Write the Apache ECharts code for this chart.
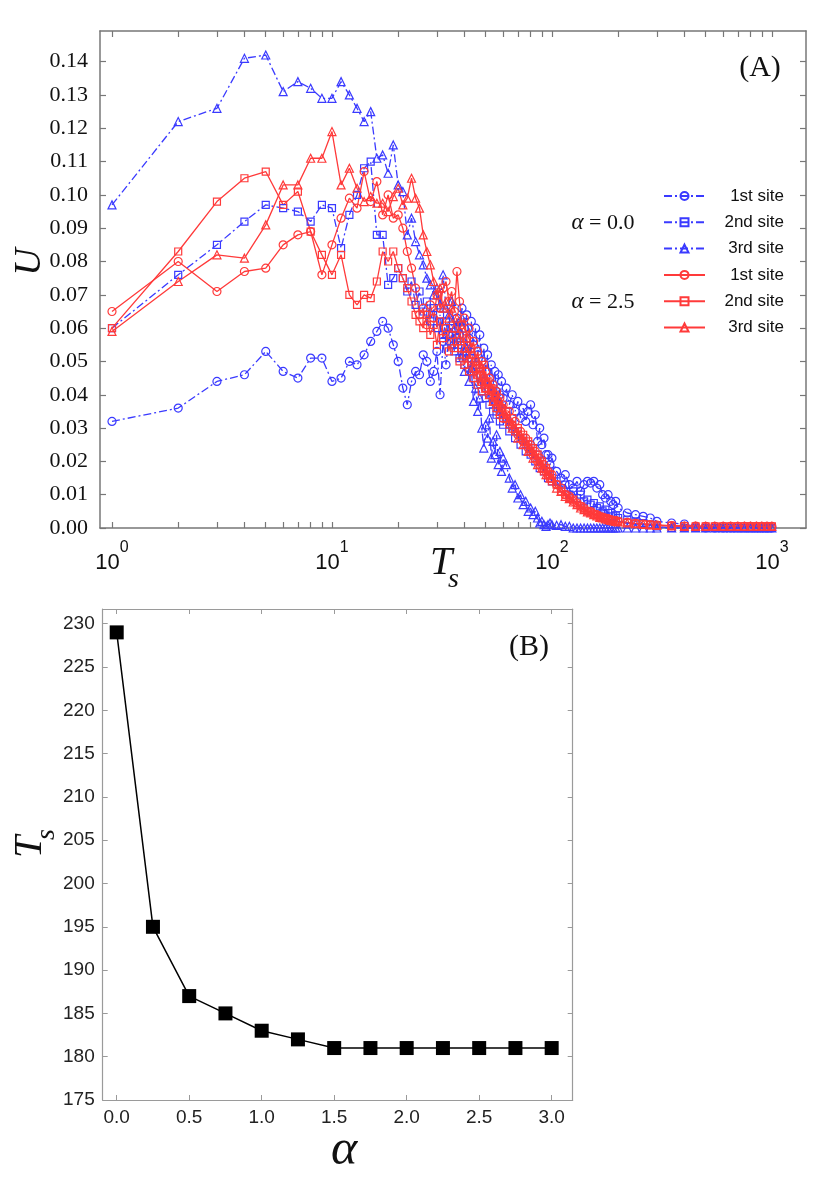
<!DOCTYPE html>
<html><head><meta charset="utf-8">
<script src="https://cdn.jsdelivr.net/npm/echarts@6/dist/echarts.min.js"></script>
<style>html,body{margin:0;padding:0;background:#fff}#c{width:831px;height:1179px}</style>
</head><body><div id="c"></div>
<script>
// ---------- Panel A data ----------
const T = [1,2,3,4,5,6,7,8,9,10,11,12,13,14,15,16,17,18,19,20,21,22,23,24,25,26,27,28,29,30,
  31,32,33,34,35,36,37,38,39,40,41,42,43,44,45,46,47,48,49,50,51,52,53,54,55,56,57,58,59,60,
  62,64,66,68,70,72,74,76,78,80,82,84,86,88,90,92,94,96,98,100,
  105,110,115,120,125,130,135,140,145,150,155,160,165,170,175,180,185,190,195,200,
  220,240,260,280,300,
  350,400,450,500,550,600,650,700,750,800,850,900,950,1000];

const a0site1 = [0.032,0.036,0.044,0.046,0.053,0.047,0.045,0.051,0.051,0.044,
  0.045,0.050,0.049,0.052,0.056,0.059,0.062,0.060,0.055,0.050,
  0.042,0.037,0.044,0.047,0.046,0.052,0.050,0.044,0.047,0.053,
  0.040,0.056,0.049,0.058,0.061,0.055,0.063,0.058,0.066,0.060,
  0.064,0.057,0.062,0.055,0.060,0.052,0.058,0.050,0.054,0.047,
  0.052,0.045,0.049,0.043,0.047,0.041,0.046,0.040,0.044,0.039,
  0.042,0.037,0.040,0.035,0.038,0.033,0.036,0.032,0.035,0.037,0.031,0.034,0.026,0.030,0.025,0.027,0.022,0.022,0.019,0.021,
  0.017,0.015,0.016,0.013,0.012,0.014,0.011,0.013,0.014,0.0135,0.014,0.012,0.013,0.010,0.009,0.010,0.008,0.007,0.008,0.006,
  0.0045,0.004,0.0035,0.003,0.002,
  0.0015,0.0012,0.0004,0,0,0,0,0,0,0,0,0,0,0];

const a0site2 = [0.060,0.076,0.085,0.092,0.097,0.096,0.095,0.092,0.097,0.096,
  0.084,0.094,0.100,0.108,0.110,0.088,0.088,0.073,0.075,0.078,
  0.075,0.071,0.074,0.067,0.071,0.065,0.068,0.062,0.066,0.060,
  0.064,0.058,0.062,0.056,0.060,0.053,0.057,0.051,0.055,0.049,
  0.053,0.047,0.051,0.045,0.049,0.043,0.046,0.041,0.044,0.039,
  0.042,0.037,0.040,0.035,0.038,0.034,0.036,0.032,0.035,0.031,
  0.033,0.029,0.031,0.027,0.029,0.025,0.027,0.023,0.025,0.022,0.024,0.020,0.022,0.018,0.020,0.017,0.018,0.015,0.017,0.014,
  0.014,0.012,0.013,0.010,0.011,0.009,0.010,0.008,0.0085,0.007,0.0075,0.006,0.0065,0.005,0.0055,0.0045,0.0045,0.0035,0.0038,0.003,
  0.0025,0.002,0.0015,0.001,0.0005,
  0,0,0,0,0,0,0,0,0,0,0,0,0,0];

const a0site3 = [0.097,0.122,0.126,0.141,0.142,0.131,0.134,0.132,0.129,0.129,
  0.134,0.130,0.126,0.122,0.125,0.111,0.112,0.1065,0.115,0.103,
  0.101,0.088,0.093,0.086,0.082,0.079,0.075,0.073,0.070,0.072,
  0.067,0.076,0.066,0.064,0.068,0.060,0.058,0.062,0.052,0.047,
  0.054,0.044,0.048,0.038,0.042,0.035,0.039,0.030,0.024,0.031,
  0.027,0.033,0.021,0.026,0.022,0.028,0.019,0.023,0.017,0.021,
  0.019,0.015,0.012,0.013,0.009,0.010,0.007,0.008,0.005,0.006,0.004,0.005,0.003,0.0015,0.002,0.001,0.0005,0.001,0.0015,0.001,
  0.0008,0.001,0.0005,0.0005,0,0,0,0,0,0,0,0,0,0,0,0,0,0,0,0,
  0,0,0,0,0,
  0,0,0,0,0,0,0,0,0,0,0,0,0,0];

const a25site1 = [0.065,0.080,0.071,0.077,0.078,0.085,0.088,0.089,0.076,0.085,
  0.093,0.099,0.096,0.107,0.098,0.104,0.094,0.100,0.093,0.094,
  0.090,0.083,0.078,0.072,0.064,0.066,0.061,0.067,0.063,0.070,
  0.066,0.072,0.074,0.068,0.071,0.065,0.077,0.068,0.061,0.063,
  0.057,0.060,0.054,0.056,0.050,0.053,0.048,0.050,0.045,0.047,
  0.043,0.045,0.041,0.043,0.039,0.041,0.037,0.039,0.036,0.037,
  0.034,0.035,0.031,0.032,0.028,0.029,0.026,0.027,0.024,0.025,0.022,0.023,0.020,0.021,0.018,0.019,0.017,0.017,0.015,0.016,
  0.013,0.012,0.010,0.0095,0.008,0.0075,0.0065,0.006,0.005,0.005,0.0042,0.004,0.0035,0.0033,0.003,0.0028,0.0025,0.0023,0.0022,0.002,
  0.0017,0.0014,0.0012,0.001,0.0009,
  0.0007,0.0006,0.0006,0.0005,0.0005,0.0005,0.0005,0.0005,0.0005,0.0005,0.0005,0.0005,0.0005,0.0005];

const a25site2 = [0.060,0.083,0.098,0.105,0.107,0.097,0.101,0.089,0.082,0.076,
  0.082,0.070,0.067,0.070,0.069,0.074,0.083,0.080,0.083,0.078,
  0.075,0.072,0.068,0.064,0.062,0.060,0.064,0.058,0.061,0.055,
  0.062,0.057,0.060,0.053,0.058,0.054,0.056,0.050,0.054,0.049,
  0.052,0.047,0.050,0.045,0.048,0.043,0.046,0.041,0.049,0.042,
  0.044,0.040,0.042,0.038,0.040,0.036,0.038,0.034,0.036,0.033,
  0.035,0.031,0.033,0.029,0.030,0.027,0.028,0.025,0.026,0.023,0.024,0.021,0.022,0.019,0.020,0.017,0.018,0.016,0.016,0.014,
  0.013,0.011,0.010,0.009,0.0085,0.007,0.0065,0.0055,0.005,0.0046,0.004,0.0038,0.0033,0.003,0.0028,0.0026,0.0024,0.0022,0.002,0.0019,
  0.0016,0.0013,0.0011,0.001,0.0008,
  0.0007,0.0006,0.0005,0.0005,0.0005,0.0005,0.0005,0.0005,0.0005,0.0005,0.0005,0.0005,0.0005,0.0005];

const a25site3 = [0.059,0.074,0.082,0.081,0.091,0.103,0.103,0.111,0.111,0.119,
  0.103,0.108,0.102,0.098,0.0995,0.0975,0.0975,0.095,0.0995,0.102,
  0.097,0.099,0.105,0.099,0.096,0.088,0.083,0.079,0.074,0.070,
  0.072,0.066,0.068,0.063,0.066,0.060,0.063,0.057,0.060,0.054,
  0.057,0.051,0.054,0.048,0.051,0.046,0.048,0.044,0.046,0.042,
  0.044,0.040,0.042,0.038,0.041,0.037,0.039,0.035,0.037,0.034,
  0.033,0.032,0.030,0.030,0.027,0.028,0.025,0.026,0.023,0.024,0.021,0.022,0.019,0.020,0.018,0.018,0.016,0.016,0.015,0.015,
  0.012,0.011,0.0095,0.0088,0.0078,0.007,0.006,0.0055,0.0048,0.0045,0.004,0.0036,0.0032,0.003,0.0027,0.0025,0.0023,0.0021,0.002,0.0018,
  0.0015,0.0013,0.0011,0.0009,0.0008,
  0.0006,0.0005,0.0005,0.0005,0.0005,0.0005,0.0005,0.0005,0.0005,0.0005,0.0005,0.0005,0.0005,0.0005];

const xLabelTicksA = [1, 10, 100, 1000];
const xMinorTicksA = [1,2,3,4,5,6,7,8,9,10,20,30,40,50,60,70,80,90,100,200,300,400,500,600,700,800,900,1000];
const yTicksA = [0,0.01,0.02,0.03,0.04,0.05,0.06,0.07,0.08,0.09,0.10,0.11,0.12,0.13,0.14];
const siteLabels = ['1st site','2nd site','3rd site','1st site','2nd site','3rd site'];

// ---------- Panel B data ----------
const alpha = [0.0,0.25,0.5,0.75,1.0,1.25,1.5,1.75,2.0,2.25,2.5,2.75,3.0];
const Ts = [229,195,187,185,183,182,181,181,181,181,181,181,181];
const xTicksB = [0.0,0.5,1.0,1.5,2.0,2.5,3.0];
const yTicksB = [175,180,185,190,195,200,205,210,215,220,225,230];

const BLUE = '#3a3aff', RED = '#ff3a3a';
const SERIF = 'Liberation Serif', SANS = 'Liberation Sans';
const DASHDOT = [8,3,2,3];

function pairs(xs, ys){ return xs.map((x,i)=>[x, ys[i]]); }

const defs = [
  {name:'a0s1', data:a0site1, color:BLUE, sym:'circle', dash:DASHDOT, size:8},
  {name:'a0s2', data:a0site2, color:BLUE, sym:'rect', dash:DASHDOT, size:7},
  {name:'a0s3', data:a0site3, color:BLUE, sym:'triangle', dash:DASHDOT, size:8},
  {name:'a25s1', data:a25site1, color:RED, sym:'circle', dash:'solid', size:8},
  {name:'a25s2', data:a25site2, color:RED, sym:'rect', dash:'solid', size:7},
  {name:'a25s3', data:a25site3, color:RED, sym:'triangle', dash:'solid', size:8}
];
const labelMap = {};
defs.forEach((d,i)=>{ labelMap[d.name] = siteLabels[i]; });

const seriesA = defs.map(d => ({
  type:'line', name:d.name, xAxisIndex:0, yAxisIndex:0,
  data: pairs(T, d.data),
  symbol:d.sym, symbolSize:d.size, showAllSymbol:true, clip:true,
  itemStyle:{color:'rgba(255,255,255,0)', borderColor:d.color, borderWidth:1.2},
  lineStyle:{color:d.color, width:1.3, type:d.dash},
  emphasis:{disabled:true}, animation:false
}));

const axisLineA = {show:true, onZero:false, lineStyle:{color:'#777', width:1.5}};
const axisLineB = {show:true, onZero:false, lineStyle:{color:'#9a9a9a', width:1.2}};

function supLabel(v){ const k = Math.round(Math.log10(v)); return '{b|10}{s|' + k + '}'; }

const option = {
  backgroundColor:'#fff',
  animation:false,
  grid:[
    {left:100, top:31, width:706, height:497},
    {left:102.7, top:609, width:470, height:491}
  ],
  xAxis:[
    {type:'log', logBase:10, gridIndex:0, min:0.882, max:1429, position:'bottom',
     axisLine:axisLineA, splitLine:{show:false},
     axisTick:{show:true, inside:true, length:6, customValues:xMinorTicksA, lineStyle:{color:'#777', width:1.2}},
     axisLabel:{show:true, margin:12, customValues:xLabelTicksA, formatter:supLabel,
       rich:{b:{fontFamily:SANS, fontSize:22, color:'#111', lineHeight:34, verticalAlign:'bottom'},
             s:{fontFamily:SANS, fontSize:16, color:'#111', lineHeight:17, verticalAlign:'top'}}}},
    {type:'log', logBase:10, gridIndex:0, min:0.882, max:1429, position:'top',
     axisLine:axisLineA, splitLine:{show:false},
     axisTick:{show:true, inside:true, length:6, customValues:xMinorTicksA, lineStyle:{color:'#777', width:1.2}},
     axisLabel:{show:false}},
    {type:'value', gridIndex:1, min:-0.0966, max:3.145, position:'bottom',
     axisLine:axisLineB, splitLine:{show:false},
     axisTick:{show:true, inside:true, length:5, customValues:xTicksB, lineStyle:{color:'#9a9a9a'}},
     axisLabel:{show:true, margin:8, customValues:xTicksB, formatter:v=>v.toFixed(1),
       fontFamily:SANS, fontSize:19, color:'#222'}},
    {type:'value', gridIndex:1, min:-0.0966, max:3.145, position:'top',
     axisLine:axisLineB, splitLine:{show:false},
     axisTick:{show:true, inside:true, length:5, customValues:xTicksB, lineStyle:{color:'#9a9a9a'}},
     axisLabel:{show:false}}
  ],
  yAxis:[
    {type:'value', gridIndex:0, min:0, max:0.1492, position:'left',
     axisLine:axisLineA, splitLine:{show:false},
     axisTick:{show:true, inside:true, length:6, customValues:yTicksA, lineStyle:{color:'#777', width:1.2}},
     axisLabel:{show:true, margin:12, customValues:yTicksA, formatter:v=>v.toFixed(2),
       fontFamily:SERIF, fontSize:22, color:'#111'}},
    {type:'value', gridIndex:0, min:0, max:0.1492, position:'right',
     axisLine:axisLineA, splitLine:{show:false},
     axisTick:{show:true, inside:true, length:6, customValues:yTicksA, lineStyle:{color:'#777', width:1.2}},
     axisLabel:{show:false}},
    {type:'value', gridIndex:1, min:175, max:231.7, position:'left',
     axisLine:axisLineB, splitLine:{show:false},
     axisTick:{show:true, inside:true, length:5, customValues:yTicksB, lineStyle:{color:'#9a9a9a'}},
     axisLabel:{show:true, margin:8, customValues:yTicksB, formatter:v=>String(v),
       fontFamily:SANS, fontSize:19, color:'#222'}},
    {type:'value', gridIndex:1, min:175, max:231.7, position:'right',
     axisLine:axisLineB, splitLine:{show:false},
     axisTick:{show:true, inside:true, length:5, customValues:yTicksB, lineStyle:{color:'#9a9a9a'}},
     axisLabel:{show:false}}
  ],
  legend:{
    data: defs.map(d=>d.name),
    orient:'vertical', left:663, top:186, padding:0,
    itemWidth:41, itemHeight:10, itemGap:6.3, selectedMode:false,
    formatter: n => '{r|' + labelMap[n] + '}',
    textStyle:{fontFamily:SANS, fontSize:17, color:'#111', lineHeight:20,
      rich:{r:{width:74, align:'right', fontFamily:SANS, fontSize:17, color:'#111'}}}
  },
  series: seriesA.concat([{
    type:'line', name:'Ts', xAxisIndex:2, yAxisIndex:2,
    data: pairs(alpha, Ts),
    symbol:'rect', symbolSize:14,
    itemStyle:{color:'#000'}, lineStyle:{color:'#000', width:1.5},
    emphasis:{disabled:true}, animation:false
  }]),
  graphic:[
    {type:'text', x:760, y:68, style:{text:'(A)', fontFamily:SERIF, fontSize:30, fill:'#111', align:'center', verticalAlign:'middle'}},
    {type:'text', x:529, y:647, style:{text:'(B)', fontFamily:SERIF, fontSize:30, fill:'#111', align:'center', verticalAlign:'middle'}},
    {type:'text', x:603, y:223, style:{text:'{i|α} = 0.0', fontFamily:SERIF, fontSize:22, fill:'#111', align:'center', verticalAlign:'middle',
      rich:{i:{fontFamily:SERIF, fontSize:23, fontStyle:'italic', fill:'#111'}}}},
    {type:'text', x:603, y:302, style:{text:'{i|α} = 2.5', fontFamily:SERIF, fontSize:22, fill:'#111', align:'center', verticalAlign:'middle',
      rich:{i:{fontFamily:SERIF, fontSize:23, fontStyle:'italic', fill:'#111'}}}},
    {type:'text', x:30, y:262, rotation:Math.PI/2, style:{text:'U', fontFamily:SERIF, fontSize:38, fontStyle:'italic', fill:'#111', align:'center', verticalAlign:'middle'}},
    {type:'group', x:430, y:583, children:[
      {type:'text', x:0, y:0, style:{text:'T', fontFamily:SERIF, fontSize:40, fontStyle:'italic', fill:'#111', align:'left', verticalAlign:'bottom'}},
      {type:'text', x:18, y:11, style:{text:'s', fontFamily:SERIF, fontSize:28, fontStyle:'italic', fill:'#111', align:'left', verticalAlign:'bottom'}}
    ]},
    {type:'group', x:50, y:858, rotation:Math.PI/2, children:[
      {type:'text', x:0, y:0, style:{text:'T', fontFamily:SERIF, fontSize:40, fontStyle:'italic', fill:'#111', align:'left', verticalAlign:'bottom'}},
      {type:'text', x:18, y:11, style:{text:'s', fontFamily:SERIF, fontSize:28, fontStyle:'italic', fill:'#111', align:'left', verticalAlign:'bottom'}}
    ]},
    {type:'text', x:344, y:1151, style:{text:'α', fontFamily:SERIF, fontSize:50, fontStyle:'italic', fill:'#111', align:'center', verticalAlign:'middle'}}
  ]
};

const chart = echarts.init(document.getElementById('c'), null, {renderer:'canvas'});
chart.setOption(option);
</script>
</body></html>
